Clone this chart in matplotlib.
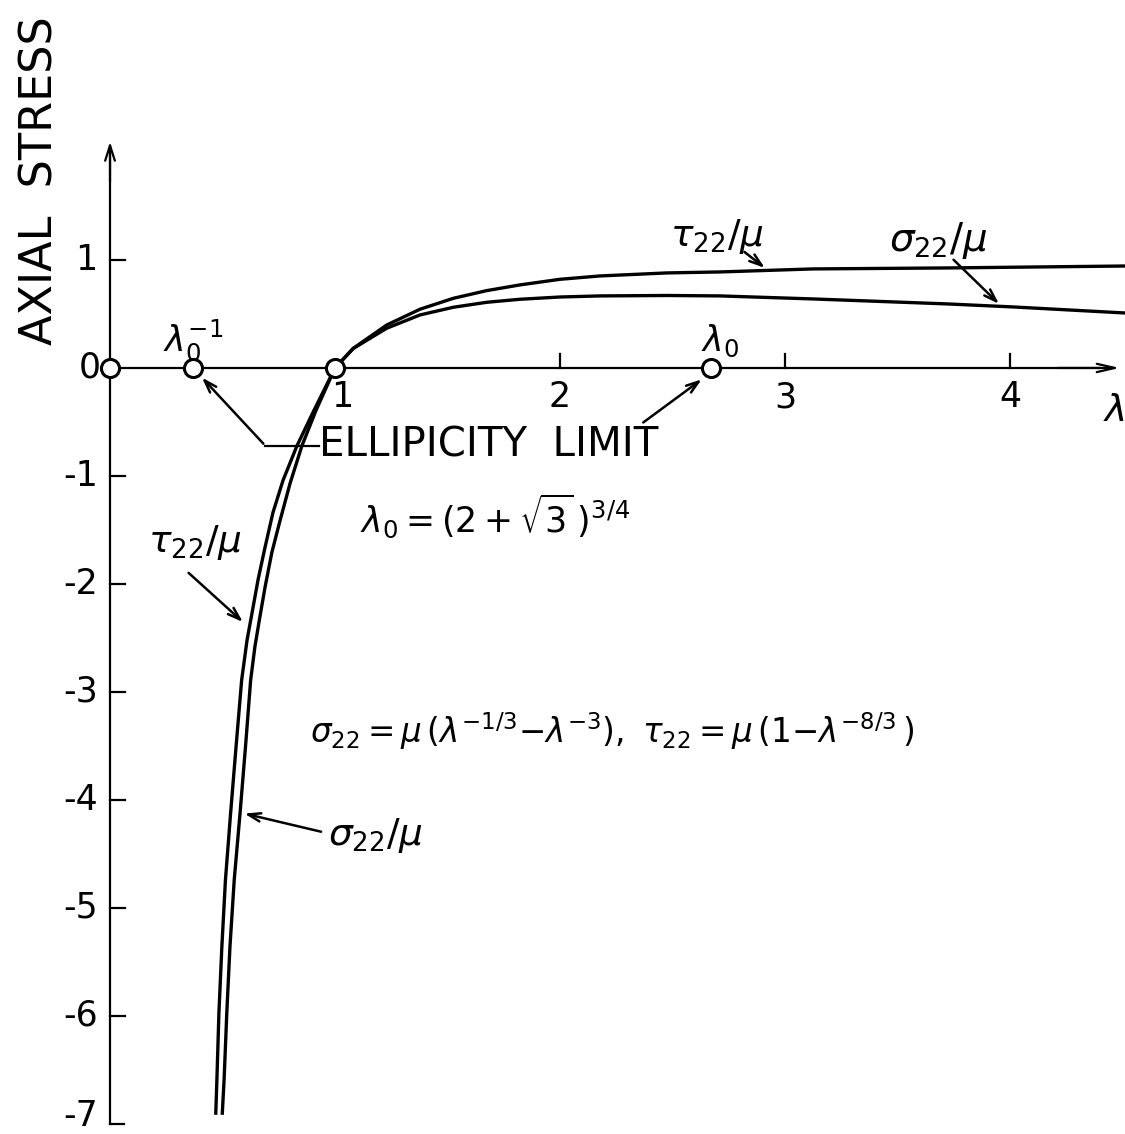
import numpy as np
import matplotlib
matplotlib.use("Agg")
import matplotlib.pyplot as plt

# stretch ratio and the two axial stress curves (normalised by mu)
tau_lam = [0.470, 0.475, 0.484, 0.497, 0.513, 0.536, 0.560, 0.585, 0.609, 0.631,
           0.658, 0.689, 0.724, 0.769, 0.831, 0.907, 1.0, 1.081, 1.230, 1.378,
           1.526, 1.674, 1.822, 2.0, 2.178, 2.476, 2.711, 3.124, 3.720, 4.511]
tau_val = [-6.90, -6.59, -5.97, -5.36, -4.74, -4.12, -3.51, -2.89, -2.52, -2.27,
           -1.96, -1.66, -1.34, -1.04, -0.72, -0.39, 0.0, 0.182, 0.398, 0.544,
           0.645, 0.716, 0.769, 0.821, 0.852, 0.880, 0.889, 0.917, 0.926, 0.944]

sig_lam = [0.499, 0.507, 0.519, 0.533, 0.552, 0.578, 0.602, 0.625, 0.644, 0.664,
           0.689, 0.719, 0.756, 0.800, 0.853, 0.916, 1.0, 1.081, 1.230, 1.378,
           1.526, 1.674, 1.822, 2.0, 2.178, 2.476, 2.711, 3.124, 3.720, 4.013, 4.511]
sig_val = [-6.90, -6.59, -5.97, -5.36, -4.74, -4.12, -3.51, -2.89, -2.58, -2.33,
           -2.03, -1.71, -1.41, -1.07, -0.72, -0.39, 0.0, 0.180, 0.368, 0.491,
           0.562, 0.608, 0.636, 0.657, 0.667, 0.671, 0.667, 0.639, 0.593, 0.565, 0.509]

# ellipticity limits lambda_0^-1 and lambda_0, plus origin and lambda = 1
ellip_lam = [0.37, 2.67]
marked_lam = [0.0, 1.0]

x_ticks = [1, 2, 3, 4]
y_ticks = [1, 0, -1, -2, -3, -4, -5, -6, -7]

plt.rcParams['mathtext.fontset'] = 'dejavusans'

fig = plt.figure(figsize=(11.25, 11.34), dpi=100)
ax = fig.add_axes([0, 0, 1, 1])
ax.set_xlim(-0.489, 4.511)
ax.set_ylim(-7.093, 3.407)
ax.axis('off')

k = 'black'
# axes drawn by hand with open arrow heads
ax.plot([0, 0], [-7, 2.0], color=k, lw=1.6)
ax.plot([0, 0.06], [-7, -7], color=k, lw=1.6)
ax.plot([0, 4.4], [0, 0], color=k, lw=1.6)
ax.annotate('', xy=(0, 2.12), xytext=(0, 1.7),
            arrowprops=dict(arrowstyle='->,head_length=1.1,head_width=0.35', color=k, lw=1.6))
ax.annotate('', xy=(4.5, 0), xytext=(4.2, 0),
            arrowprops=dict(arrowstyle='->,head_length=1.3,head_width=0.3', color=k, lw=1.6))

for t in x_ticks:
    if t != 1:
        ax.plot([t, t], [0, 0.13], color=k, lw=1.6)
    ax.text(t + (0.03 if t == 1 else 0), -0.27, str(t), fontsize=25,
            ha='center', va='center')
ax.text(4.46, -0.4, r'$\lambda$', fontsize=27, ha='center', va='center')

for t in y_ticks:
    if t not in (0, -7):
        ax.plot([0, 0.065], [t, t], color=k, lw=1.6)
    ax.text(-0.055 if t != 0 else -0.04, t + (0.07 if t == -7 else 0), str(t),
            fontsize=25, ha='right', va='center')

ax.text(-0.31, 1.73, 'AXIAL  STRESS', fontsize=32, rotation=90, ha='center', va='center')

# the two curves
ax.plot(tau_lam, tau_val, color=k, lw=2.4, solid_joinstyle='round')
ax.plot(sig_lam, sig_val, color=k, lw=2.4, solid_joinstyle='round')

# open circles on the lambda axis
ax.plot(marked_lam + ellip_lam, [0] * 4, 'o', ms=13, mfc='white', mec=k, mew=2.2)

arrow = dict(arrowstyle='->,head_length=0.9,head_width=0.3', color=k, lw=1.8)

ax.text(0.37, 0.26, r'$\lambda_0^{-1}$', fontsize=25, ha='center', va='center')
ax.text(2.71, 0.25, r'$\lambda_0$', fontsize=25, ha='center', va='center')

ax.text(0.93, -0.72, 'ELLIPICITY  LIMIT', fontsize=29, ha='left', va='center')
ax.plot([0.69, 0.93], [-0.72, -0.72], color=k, lw=1.6)
ax.annotate('', xy=(ellip_lam[0] + 0.03, -0.07), xytext=(0.69, -0.72), arrowprops=arrow)
ax.annotate('', xy=(ellip_lam[1] - 0.03, -0.09), xytext=(2.36, -0.52), arrowprops=arrow)

ax.text(1.11, -1.37, r'$\lambda_0 = (2+\sqrt{3}\,)^{3/4}$', fontsize=25, ha='left', va='center')
ax.text(0.89, -3.36,
        r'$\sigma_{22}{=}\mu\,(\lambda^{-1/3}{-}\lambda^{-3}),\ \tau_{22}{=}\mu\,(1{-}\lambda^{-8/3}\,)$',
        fontsize=23.5, ha='left', va='center')

ax.text(0.17, -1.62, r'$\tau_{22}/\mu$', fontsize=27, ha='left', va='center')
ax.annotate('', xy=(0.60, -2.37), xytext=(0.34, -1.88), arrowprops=arrow)

ax.text(0.97, -4.33, r'$\sigma_{22}/\mu$', fontsize=27, ha='left', va='center')
ax.annotate('', xy=(0.585, -4.12), xytext=(0.95, -4.3), arrowprops=arrow)

ax.text(2.49, 1.22, r'$\tau_{22}/\mu$', fontsize=27, ha='left', va='center')
ax.annotate('', xy=(2.92, 0.91), xytext=(2.81, 1.09), arrowprops=arrow)

ax.text(3.46, 1.18, r'$\sigma_{22}/\mu$', fontsize=28, ha='left', va='center')
ax.annotate('', xy=(3.96, 0.575), xytext=(3.74, 1.02), arrowprops=arrow)

fig.savefig('out.png', dpi=100, facecolor='white')
